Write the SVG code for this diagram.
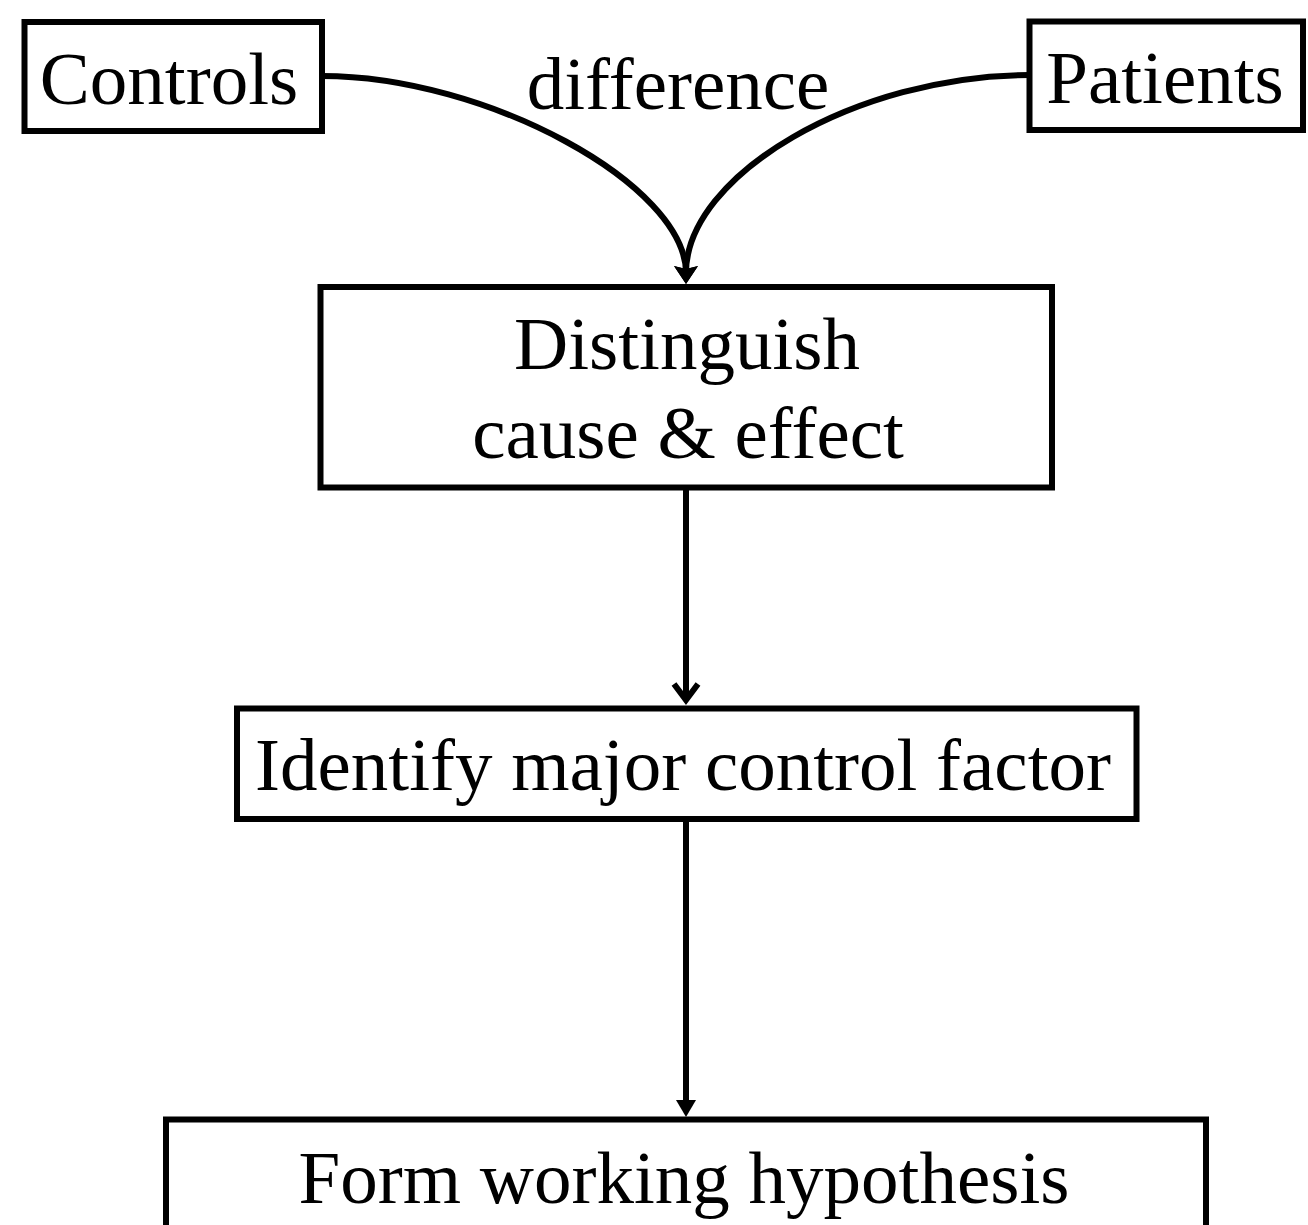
<svg xmlns="http://www.w3.org/2000/svg" width="1308" height="1225" viewBox="0 0 1308 1225">
  <style>
    .box { fill: #fff; stroke: #000; stroke-width: 6; }
    .lbl { font-family: "Liberation Serif", "Times New Roman", serif; font-size: 75px; fill: #000; text-anchor: middle; }
    .edge { fill: none; stroke: #000; stroke-width: 6; }
  </style>
  <defs>
    <marker id="triCurve" markerUnits="userSpaceOnUse" orient="auto" markerWidth="18" markerHeight="24" viewBox="0 0 18 24" refX="7" refY="12">
      <path d="M0,0 L18,12 L0,24 L3,12 z" fill="#000"/>
    </marker>
    <marker id="triStraight" markerUnits="userSpaceOnUse" orient="auto" markerWidth="17" markerHeight="20" viewBox="0 0 17 20" refX="6" refY="10">
      <path d="M0,0 L17,10 L0,20 z" fill="#000"/>
    </marker>
    <marker id="openV" markerUnits="userSpaceOnUse" orient="auto" markerWidth="30" markerHeight="30" viewBox="-20 -15 30 30" refX="0" refY="0" overflow="visible">
      <path d="M-16,-12 L0,0 L-16,12" fill="none" stroke="#000" stroke-width="6"/>
    </marker>
  </defs>
  <rect width="1308" height="1225" fill="#fff"/>

  <g id="connectors">
    <path class="edge" d="M322,76 C487,76 686,185 686,273" marker-end="url(#triCurve)"/>
    <path class="edge" d="M1030,75 C856,75 686,175 686,273" marker-end="url(#triCurve)"/>
    <text class="lbl" x="678" y="109">difference</text>
    <path class="edge" d="M686,487 L686,700" marker-end="url(#openV)"/>
    <path class="edge" d="M686,819 L686,1106" marker-end="url(#triStraight)"/>
  </g>

  <g id="node-controls">
    <rect class="box" x="24.5" y="22" width="297.5" height="109"/>
    <text class="lbl" x="169" y="104">Controls</text>
  </g>

  <g id="node-patients">
    <rect class="box" x="1029.5" y="21.5" width="273.5" height="108.5"/>
    <text class="lbl" x="1165" y="103">Patients</text>
  </g>

  <g id="node-distinguish">
    <rect class="box" x="320.5" y="287" width="731.5" height="200.5"/>
    <text class="lbl" x="687" y="369">Distinguish</text>
    <text class="lbl" x="688" y="458">cause &amp; effect</text>
  </g>

  <g id="node-identify">
    <rect class="box" x="237" y="708.5" width="899.5" height="110.5"/>
    <text class="lbl" x="683" y="790">Identify major control factor</text>
  </g>

  <g id="node-form">
    <rect class="box" x="166" y="1119.5" width="1040" height="130"/>
    <text class="lbl" x="684" y="1203">Form working hypothesis</text>
  </g>
</svg>
